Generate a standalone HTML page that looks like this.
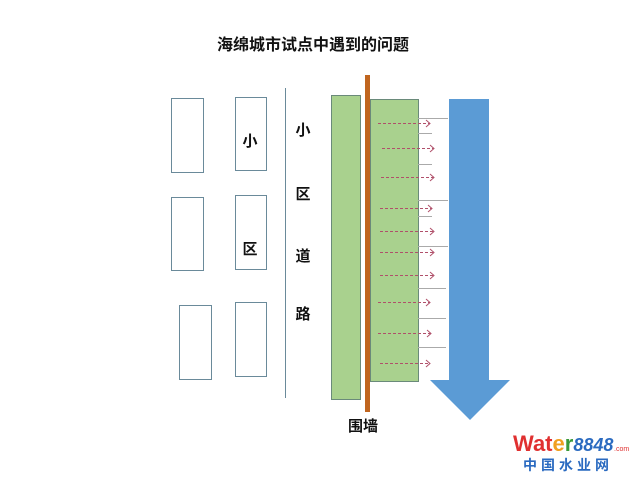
<!DOCTYPE html>
<html><head><meta charset="utf-8"><style>
body{margin:0;background:#fff;}
</style></head><body>
<svg width="640" height="480" xmlns="http://www.w3.org/2000/svg" font-family="'Liberation Sans','Noto Sans CJK SC',sans-serif">
<rect width="640" height="480" fill="#fff"/>
<text x="313" y="50" font-size="16" font-weight="bold" text-anchor="middle" fill="#111">海绵城市试点中遇到的问题</text>
<g fill="#fff" stroke="#6a8a9a" stroke-width="1">
<rect x="171.5" y="98.5" width="32" height="74"/>
<rect x="171.5" y="197.5" width="32" height="73"/>
<rect x="179.5" y="305.5" width="32" height="74"/>
<rect x="235.5" y="97.5" width="31" height="73"/>
<rect x="235.5" y="195.5" width="31" height="74"/>
<rect x="235.5" y="302.5" width="31" height="74"/>
</g>
<line x1="285.5" y1="88" x2="285.5" y2="398" stroke="#6a8a9a"/>
<g font-size="15" font-weight="bold" fill="#111" text-anchor="middle">
<text x="250" y="146">小</text>
<text x="250" y="254">区</text>
<text x="303" y="135">小</text>
<text x="303" y="199">区</text>
<text x="303" y="261">道</text>
<text x="303" y="319">路</text>
<text x="363" y="431">围墙</text>
</g>
<rect x="331.5" y="95.5" width="29" height="304" fill="#a9d18e" stroke="#6a8a7a"/>
<rect x="370.5" y="99.5" width="48" height="282" fill="#a9d18e" stroke="#6a8a7a"/>
<rect x="365" y="75" width="5" height="337" fill="#c0651f"/>
<g stroke="#aaa" stroke-width="1">
<line x1="418" y1="118.5" x2="448" y2="118.5"/>
<line x1="418" y1="133.5" x2="432" y2="133.5"/>
<line x1="418" y1="164.5" x2="432" y2="164.5"/>
<line x1="418" y1="200.5" x2="448" y2="200.5"/>
<line x1="418" y1="216.5" x2="432" y2="216.5"/>
<line x1="418" y1="246.5" x2="448" y2="246.5"/>
<line x1="418" y1="288.5" x2="446" y2="288.5"/>
<line x1="418" y1="318.5" x2="446" y2="318.5"/>
<line x1="418" y1="347.5" x2="446" y2="347.5"/>
</g>
<g stroke="#b0506a" stroke-width="1" fill="none">
<g stroke-dasharray="3,2">
<line x1="378" y1="123.5" x2="430" y2="123.5"/>
<line x1="382" y1="148.5" x2="434" y2="148.5"/>
<line x1="381" y1="177.5" x2="434" y2="177.5"/>
<line x1="380" y1="208.5" x2="432" y2="208.5"/>
<line x1="380" y1="231.5" x2="434" y2="231.5"/>
<line x1="380" y1="252.5" x2="434" y2="252.5"/>
<line x1="380" y1="275.5" x2="434" y2="275.5"/>
<line x1="378" y1="302.5" x2="430" y2="302.5"/>
<line x1="378" y1="333.5" x2="431" y2="333.5"/>
<line x1="380" y1="363.5" x2="430" y2="363.5"/>
</g>
<path d="M426 120l4 3.5-4 3.5M430 145l4 3.5-4 3.5M430 174l4 3.5-4 3.5M428 205l4 3.5-4 3.5M430 228l4 3.5-4 3.5M430 249l4 3.5-4 3.5M430 272l4 3.5-4 3.5M426 299l4 3.5-4 3.5M427 330l4 3.5-4 3.5M426 360l4 3.5-4 3.5"/>
</g>
<polygon points="449,99 489,99 489,380 510,380 470,420 430,380 449,380" fill="#5b9bd5"/>
<text x="513" y="451" font-size="22" font-weight="bold" fill="#e03030">Wat<tspan fill="#f0a020">e</tspan><tspan fill="#3a9a3a">r</tspan><tspan fill="#2a6ac0" font-style="italic" font-size="18">8848</tspan></text>
<text x="614" y="451" font-size="7" fill="#e03030">.com</text>
<text x="568" y="470" font-size="14" font-weight="bold" fill="#2a6ac0" text-anchor="middle" letter-spacing="4">中国水业网</text>
</svg>
</body></html>
